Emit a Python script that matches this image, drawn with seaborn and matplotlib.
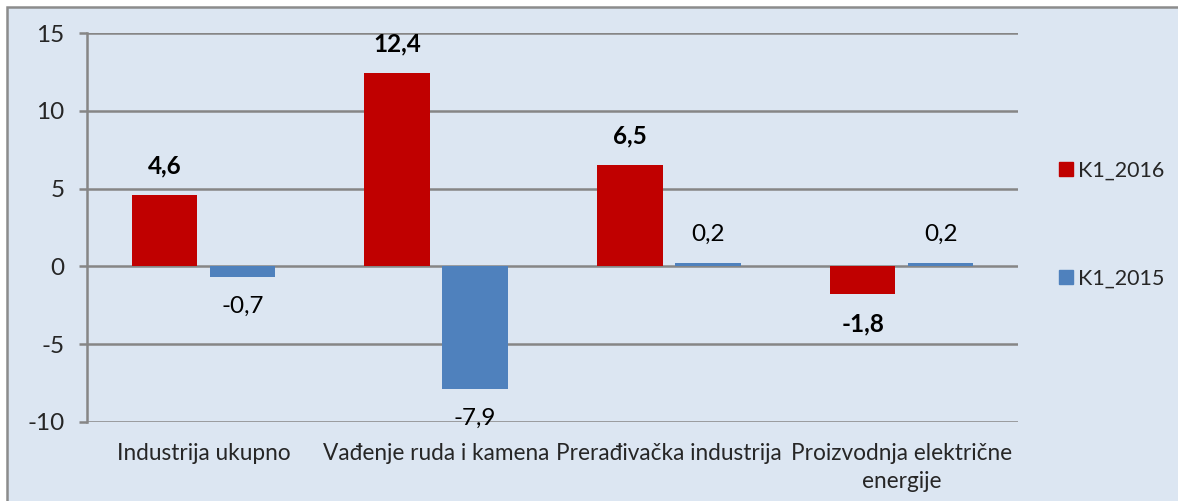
import numpy as np
import pandas as pd
import matplotlib as mpl
mpl.use('Agg')
import matplotlib.pyplot as plt
from matplotlib.patches import Rectangle
import seaborn as sns

categories = ['Industrija ukupno', 'Vađenje ruda i kamena', 'Prerađivačka industrija',
              'Proizvodnja električne\nenergije']
k1_2016 = [4.6, 12.4, 6.5, -1.8]
k1_2015 = [-0.7, -7.9, 0.2, 0.2]
series = ['K1_2016', 'K1_2015']
yticks = [-10, -5, 0, 5, 10, 15]

RED = '#c00000'
BLUE = '#4f81bd'
BG = '#dce6f2'
GRID = '#868686'


def fmt_val(v):
    return '{0:.1f}'.format(v).replace('.', ',')


def main():
    df = pd.DataFrame({
        'cat': categories * 2,
        'val': k1_2016 + k1_2015,
        'series': [series[0]] * len(categories) + [series[1]] * len(categories),
    })

    sns.set_style('white')
    plt.rcParams['font.family'] = ['Lato', 'DejaVu Sans']

    fig = plt.figure(figsize=(11.78, 5.01), dpi=100, facecolor='white')
    # chart frame (Excel style box)
    frame = Rectangle((7 / 1178, -0.01), 1.0, (501 - 7) / 501 + 0.01,
                      transform=fig.transFigure, facecolor=BG,
                      edgecolor='#8c8c8c', lw=1.8, zorder=-10)
    fig.patches.append(frame)
    ax = fig.add_axes([87 / 1178, 1 - 422 / 501, (1018 - 87) / 1178, (422 - 33) / 501])
    ax.set_facecolor('none')

    sns.barplot(data=df, x='cat', y='val', hue='series', hue_order=series,
                palette=[RED, BLUE], width=0.67, gap=0.16, saturation=1,
                errorbar=None, ax=ax, zorder=3, legend=True, linewidth=0)

    ax.set_ylim(-10, 15)
    ax.set_xlim(-0.5, len(categories) - 0.5)
    ax.set_yticks(yticks)
    ax.set_yticklabels([str(t) for t in yticks])
    ax.yaxis.grid(True, color=GRID, lw=1.8, zorder=1)
    ax.set_axisbelow(True)
    for s in ['top', 'right', 'bottom']:
        ax.spines[s].set_visible(False)
    ax.spines['left'].set_color(GRID)
    ax.spines['left'].set_linewidth(1.8)
    ax.tick_params(axis='y', length=6, width=1.8, color=GRID, pad=10, labelsize=17.5, left=True)
    ax.tick_params(axis='x', length=0, pad=15, labelsize=16.3)
    for lbl in ax.get_xticklabels():
        lbl.set_linespacing(1.4)
    ax.set_xlabel('')
    ax.set_ylabel('')

    # value labels
    for cont, vals, weight in zip(ax.containers, [k1_2016, k1_2015], ['bold', 'normal']):
        for bar, v in zip(cont.patches, vals):
            x = bar.get_x() + bar.get_width() / 2
            off = 21 if v >= 0 else -21
            ax.annotate(fmt_val(v), (x, v), xytext=(0, off), textcoords='offset points',
                        ha='center', va='center', fontsize=17.5, fontweight=weight,
                        color='black', zorder=5)

    ax.get_legend().remove()
    handles = [Rectangle((0, 0), 1, 1, color=c) for c in [RED, BLUE]]
    fig.legend(handles, series, loc='upper left', bbox_to_anchor=(1050 / 1178, 1 - 152 / 501),
               frameon=False, fontsize=15.5, handlelength=0.65, handleheight=0.65,
               handletextpad=0.25, labelspacing=4.1, borderaxespad=0)

    plt.savefig('out.png', dpi=100, facecolor='white')


if __name__ == '__main__':
    main()
